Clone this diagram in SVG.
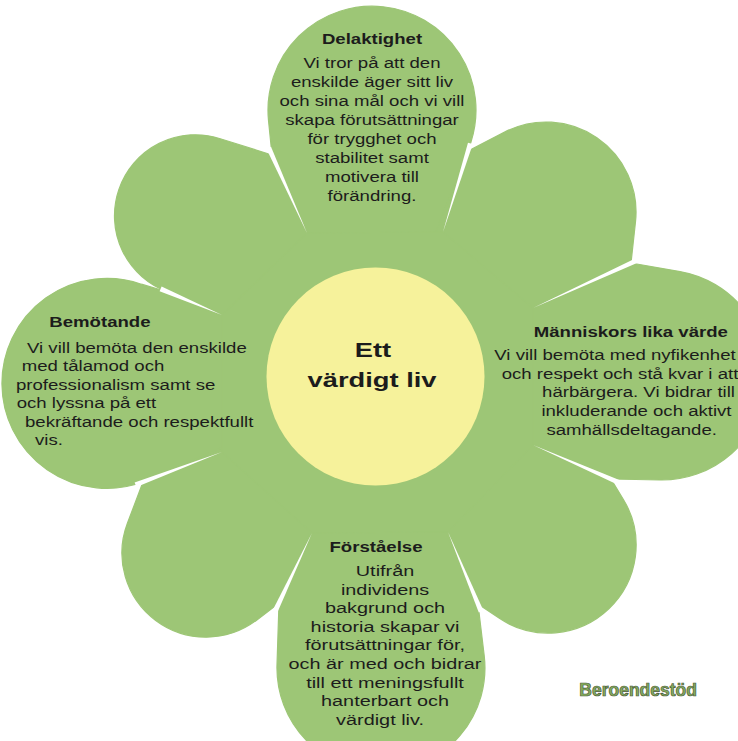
<svg xmlns="http://www.w3.org/2000/svg" width="738" height="741" viewBox="0 0 738 741">
<style>
.petal{fill:#9dc676;stroke:#9dc676;stroke-width:1.2;stroke-linejoin:round}
.slit{fill:#ffffff;stroke:none}
.t{font-family:"Liberation Sans",Arial,sans-serif;font-size:15.5px;fill:#1c1c1c}
.h{font-family:"Liberation Sans",Arial,sans-serif;font-size:15.5px;font-weight:bold;fill:#1c1c1c}
.c{text-anchor:middle}
</style>
<rect x="0" y="0" width="738" height="741" fill="#ffffff"/>
<g id="petal-top-left"><path class="petal" d="M377 380 L168 292 A81 81 0 0 1 220.3 138.7 L272 155 Z"/></g>
<g id="petal-delaktighet"><path class="petal" d="M377 380 L272 155 L268.5 120.4 A104 104 0 1 1 470.9 142.3 L468 151 Z"/></g>
<g id="petal-top-right"><path class="petal" d="M377 380 L468 151 L504.6 132.1 A90 90 0 0 1 635.5 221.8 L631 263 Z"/></g>
<g id="petal-manniskors"><path class="petal" d="M377 380 L631 263 L680 271.6 A105 105 0 0 1 659.8 480 L611 479 Z"/></g>
<g id="petal-bottom-right"><path class="petal" d="M377 380 L611 479 L623.4 499.5 A88 88 0 0 1 499 618.1 L478 604 Z"/></g>
<g id="petal-forstaelse"><path class="petal" d="M377 380 L478 604 L484.2 655.5 A104 104 0 1 1 277 664.7 L279 603 Z"/></g>
<g id="petal-bottom-left"><path class="petal" d="M377 380 L279 603 L256.9 619.9 A84 84 0 0 1 127.4 523.3 L143 482 Z"/></g>
<g id="petal-bemotande"><path class="petal" d="M377 380 L143 482 A105 105 0 1 1 141.4 284.2 L168 292 Z"/></g>
<polygon class="petal" points="307,233 443,232 533,308 533,445 448,532 312,533 222,452 222,315"/>
<g id="slits">
<polygon class="slit" points="307,233 271.0,146.7 266.4,148.7"/>
<polygon class="slit" points="222,315 161.6,286.6 159.6,291.2"/>
<polygon class="slit" points="222,452 134.6,482.5 136.4,487.1"/>
<polygon class="slit" points="312,533 273.3,609.1 277.9,611.3"/>
<polygon class="slit" points="448,532 478.8,612.4 483.4,610.4"/>
<polygon class="slit" points="533,445 617.3,484.5 619.3,479.9"/>
<polygon class="slit" points="533,308 639.3,262.0 637.3,257.4"/>
<polygon class="slit" points="443,232 472.8,144.1 468.0,142.7"/>
</g>
<g id="center">
<circle cx="375.5" cy="376.5" r="109" fill="#f6f29b"/>
<g transform="scale(1.3 1)">
<text class="h c" x="286.9" y="357" style="font-size:21px">Ett</text>
<text class="h c" x="286.2" y="387" style="font-size:21px">värdigt liv</text>
</g>
</g>
<g id="text-delaktighet" transform="translate(372 0) scale(1.2 1)">
<text class="h c" x="0" y="44">Delaktighet</text>
<text class="t c" x="0" y="68">Vi tror på att den</text>
<text class="t c" x="0" y="87">enskilde äger sitt liv</text>
<text class="t c" x="0" y="106">och sina mål och vi vill</text>
<text class="t c" x="0" y="125">skapa förutsättningar</text>
<text class="t c" x="0" y="144">för trygghet och</text>
<text class="t c" x="0" y="163">stabilitet samt</text>
<text class="t c" x="0" y="182">motivera till</text>
<text class="t c" x="0" y="201">förändring.</text>
</g>
<g id="text-manniskors" transform="scale(1.2 1)">
<text class="h c" x="525.7" y="337">Människors lika värde</text>
<text class="t c" x="512.5" y="360.5">Vi vill bemöta med nyfikenhet</text>
<text class="t c" x="516.7" y="379">och respekt och stå kvar i att</text>
<text class="t c" x="532.1" y="397.5">härbärgera. Vi bidrar till</text>
<text class="t c" x="530.4" y="416">inkluderande och aktivt</text>
<text class="t c" x="526.4" y="435">samhällsdeltagande.</text>
</g>
<g id="text-bemotande" transform="scale(1.2 1)">
<text class="h" x="41.1" y="327">Bemötande</text>
<text class="t" x="22.5" y="353">Vi vill bemöta den enskilde</text>
<text class="t" x="18.1" y="371.5">med tålamod och</text>
<text class="t" x="13.3" y="390">professionalism samt se</text>
<text class="t" x="13.9" y="408.5">och lyssna på ett</text>
<text class="t" x="20.8" y="427">bekräftande och respektfullt</text>
<text class="t" x="29.2" y="445.5">vis.</text>
</g>
<g id="text-forstaelse">
<g transform="translate(376 0) scale(1.2 1)"><text class="h c" x="0" y="552">Förståelse</text></g>
<g transform="scale(1.28 1)">
<text class="t c" x="300.8" y="576">Utifrån</text>
<text class="t c" x="300.8" y="594.6">individens</text>
<text class="t c" x="300.8" y="613.2">bakgrund och</text>
<text class="t c" x="300.8" y="631.8">historia skapar vi</text>
<text class="t c" x="300.8" y="650.4">förutsättningar för,</text>
<text class="t c" x="300.8" y="669">och är med och bidrar</text>
<text class="t c" x="300.8" y="687.6">till ett meningsfullt</text>
<text class="t c" x="300.8" y="706.2">hanterbart och</text>
<text class="t c" x="296.9" y="724.8">värdigt liv.</text>
</g>
</g>
<g id="logo">
<text x="579.3" y="695.7" style="font-family:'Liberation Sans',Arial,sans-serif;font-size:17.5px;font-weight:bold;fill:#86ad5c;stroke:#4b5a3c;stroke-width:0.7">Beroendestöd</text>
</g>
</svg>
